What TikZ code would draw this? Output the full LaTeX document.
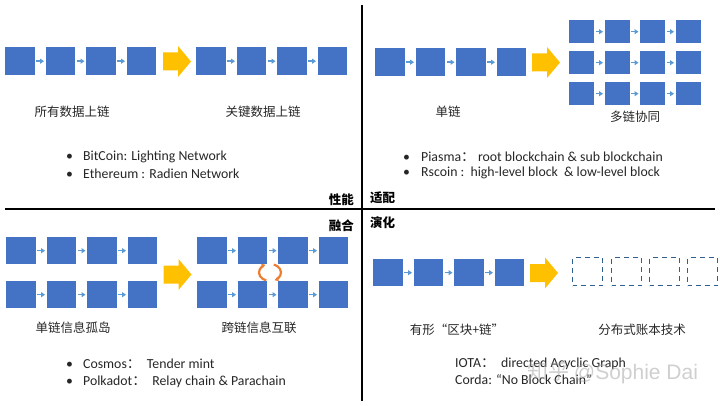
\documentclass[tikz,border=0pt]{standalone}
\usepackage{fontspec}
\setmainfont{Carlito}
\newfontfamily\cjk{Noto Sans CJK SC}
\newfontfamily\wmfont{Liberation Sans}
\usetikzlibrary{arrows.meta}
\definecolor{blkc}{HTML}{4472C4}
\definecolor{lnkc}{HTML}{5B9BD5}
\definecolor{ylwc}{HTML}{FFC000}
\definecolor{orgc}{HTML}{ED7D31}
\definecolor{dshc}{HTML}{2F5F8F}
\definecolor{txtc}{HTML}{262626}
\newcommand\bigyarrow[2]{%
  \fill[ylwc] ({#1},{#2-9}) -- ({#1+15},{#2-9}) -- ({#1+15},{#2-15.5}) -- ({#1+28},{#2})
    -- ({#1+15},{#2+15.5}) -- ({#1+15},{#2+9}) -- ({#1},{#2+9}) -- cycle;}
\tikzset{
  blk/.style={fill=blkc, draw=none, minimum width=29.5pt, minimum height=28pt, inner sep=0pt, anchor=north west},
  sblk/.style={blk, minimum width=25pt, minimum height=23pt},
  dbox/.style={draw=dshc, dash pattern=on 5pt off 4pt, dash phase=1pt, line width=1.4pt, minimum width=30pt, minimum height=28pt, inner sep=0pt, anchor=north west},
  lnk/.style={-{Triangle[length=4pt,width=5pt]}, draw=lnkc, line width=1.5pt, shorten >=1.5pt, shorten <=1.5pt},
  lbl/.style={font=\cjk\fontsize{12.5}{14}\selectfont, text=txtc, inner sep=0pt},
  hd/.style={font=\cjk\bfseries\fontsize{12.5}{14}\selectfont, text=black, inner sep=0pt},
  bul/.style={font=\fontsize{13.8}{16}\selectfont, text=txtc, inner sep=0pt, anchor=west},
  sep/.style={line width=1.8pt, black},
}
\begin{document}
\begin{tikzpicture}[x=1pt, y=-1pt]
\useasboundingbox (0,0) rectangle (720,406);
% separators
\coordinate (vt) at (362,5); \coordinate (vb) at (362,401);
\coordinate (hl) at (5,209); \coordinate (hr) at (715,209);
\draw[sep] (vt) -- (vb);
\draw[sep] (hl) -- (hr);

% ---------- top-left ----------
\foreach \i/\x in {1/5,2/45.5,3/86,4/126.5} \node[blk] (a\i) at (\x,47) {};
\foreach \i/\x in {1/196,2/236.5,3/277,4/317.5} \node[blk] (b\i) at (\x,47) {};
\foreach \i/\j in {1/2,2/3,3/4} {\draw[lnk] (a\i) -- (a\j); \draw[lnk] (b\i) -- (b\j);}
\bigyarrow{163}{61.5}
\node[lbl] (l1) at (72,112) {所有数据上链};
\node[lbl] (l2) at (263,112) {关键数据上链};
\node[bul] (t1) at (66,157) {\makebox[17pt][l]{•}BitCoin: Lighting Network};
\node[bul] (t2) at (66,174) {\makebox[17pt][l]{•}Ethereum : Radien Network};
\node[hd, anchor=east] (h1) at (354,200) {性能};

% ---------- top-right ----------
\foreach \i/\x in {1/375,2/415.5,3/456,4/496.5} \node[blk] (c\i) at (\x,48) {};
\foreach \i/\j in {1/2,2/3,3/4} \draw[lnk] (c\i) -- (c\j);
\bigyarrow{532}{62.5}
\foreach \r/\y in {1/20,2/51,3/82} {
  \foreach \i/\x in {1/569,2/604.5,3/640,4/675.5} \node[sblk] (m\r\i) at (\x,\y) {};
  \foreach \i/\j in {1/2,2/3,3/4} \draw[lnk] (m\r\i) -- (m\r\j);
}
\node[lbl] (l3) at (448,112) {单链};
\node[lbl] (l4) at (635,117) {多链协同};
\node[bul] (t3) at (403,157) {\makebox[18pt][l]{•}Piasma{\cjk ：} root blockchain \& sub blockchain};
\node[bul] (t4) at (403,173) {\makebox[18pt][l]{•}Rscoin :\ \ high-level block \ \& low-level block};
\node[hd, anchor=west] (h2) at (370,198) {适配};

% ---------- bottom-left ----------
\node[hd, anchor=east] (h3) at (354,226) {融合};
\foreach \r/\y in {1/237,2/281} {
  \foreach \i/\x in {1/6,2/46.5,3/87,4/127.5} \node[blk, minimum height=27pt] (p\r\i) at (\x,\y) {};
  \foreach \i/\x in {1/197,2/237.5,3/278,4/318.5} \node[blk, minimum height=27pt] (q\r\i) at (\x,\y) {};
  \foreach \i/\j in {1/2,2/3,3/4} {\draw[lnk] (p\r\i) -- (p\r\j); \draw[lnk] (q\r\i) -- (q\r\j);}
}
\bigyarrow{163.5}{274.5}
\coordinate (sw) at (270,272.5);
\draw[orgc, line width=2.2pt, -{Stealth[length=4pt,width=5pt]}] ([shift={(110:11 and 8.5)}]sw) arc[start angle=110, end angle=245, x radius=11, y radius=8.5];
\draw[orgc, line width=2.2pt, -{Stealth[length=4pt,width=5pt]}] ([shift={(290:11 and 8.5)}]sw) arc[start angle=290, end angle=425, x radius=11, y radius=8.5];
\node[lbl] (l5) at (73,328) {单链信息孤岛};
\node[lbl] (l6) at (259,328) {跨链信息互联};
\node[bul] (t5) at (66,364) {\makebox[17pt][l]{•}Cosmos{\cjk ：}\ \ Tender mint};
\node[bul] (t6) at (66,382) {\makebox[17pt][l]{•}Polkadot{\cjk ：}\ \ Relay chain \& Parachain};

% ---------- bottom-right ----------
\node[hd, anchor=west] (h4) at (370,223) {演化};
\foreach \i/\x in {1/373,2/413.5,3/454,4/494.5} \node[blk, minimum height=27pt] (e\i) at (\x,259) {};
\foreach \i/\j in {1/2,2/3,3/4} \draw[lnk] (e\i) -- (e\j);
\bigyarrow{530}{273}
\foreach \i/\x in {1/572,2/611,3/649,4/687} \node[dbox] (d\i) at (\x,257) {};
\node[lbl] (l7) at (457,330) {有形“区块+链”};
\node[lbl] (l8) at (642,330) {分布式账本技术};
\node[bul] (t7) at (455,364) {IOTA{\cjk ：}\ \ directed Acyclic Graph};
\node[bul] (t8) at (455,380) {Corda: “No Block Chain”};
\node[font=\fontsize{21}{24}\selectfont, text=gray!75, opacity=0.5, inner sep=0pt, anchor=west] (wm) at (527,373) {{\cjk 知乎} \wmfont @Sophie Dai};
\end{tikzpicture}
\end{document}
